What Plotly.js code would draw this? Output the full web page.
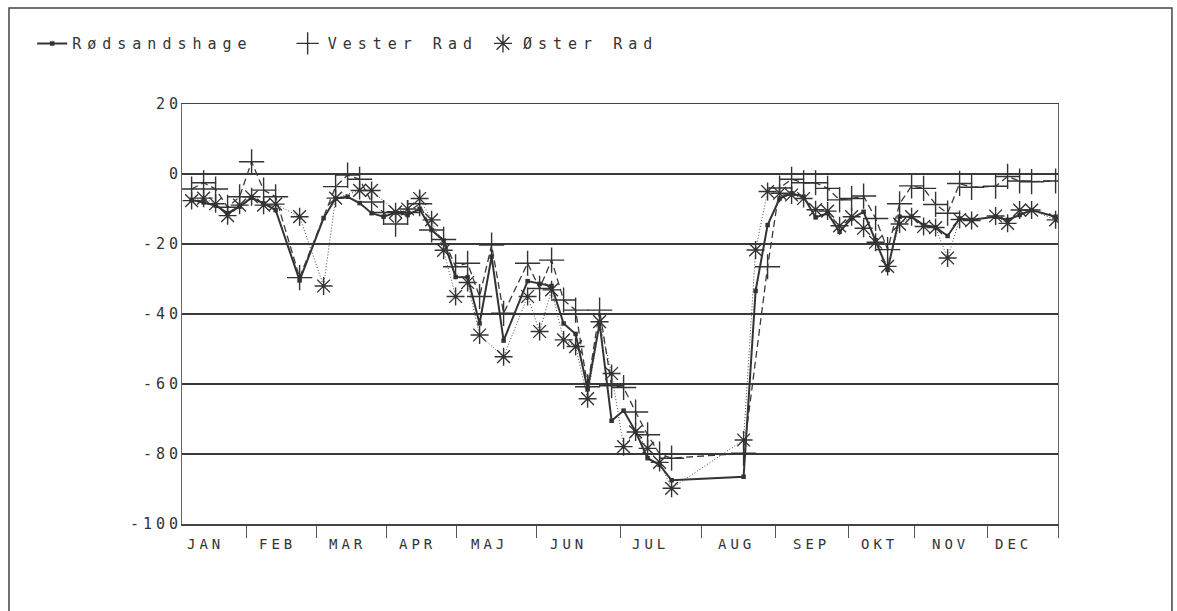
<!DOCTYPE html>
<html>
<head>
<meta charset="utf-8">
<script src="https://cdn.plot.ly/plotly-3.0.1.min.js"></script>
<style>
  html, body { margin: 0; padding: 0; background: #ffffff; }
  #chart { width: 1177px; height: 611px; }
  .legendtext { letter-spacing: 6px; }
  .annotation-text { letter-spacing: 4px; }
  .ytick text { letter-spacing: 4px; }
</style>
</head>
<body>
<div id="chart"></div>
<script>
// ---- data (day of year, value) ----
const rodDays = [4,9,14,19,24,29,34,39,49,59,64,69,74,79,84,89,94,99,104,109,114,119,124,129,134,144,149,154,159,164,169,174,179,184,189,194,199,204,234,239,244,249,254,259,264,269,274,279,284,289,294,299,304,309,314,319,324,329,339,344,349,354,364];
const rodValues = [-7.4,-8.1,-9,-11.2,-9.3,-6.8,-8.4,-10.3,-30.4,-12.6,-7,-6.5,-8.3,-11.2,-12.2,-11,-11.7,-10,-16,-19,-29.4,-29.5,-42.7,-23.6,-47.6,-30.6,-31.4,-32,-42.7,-45.7,-61.5,-42.7,-70.5,-67.6,-73.6,-81.2,-83.1,-87.5,-86.5,-33.4,-14.6,-7,-5.5,-6.5,-12.4,-11.2,-16.5,-12.7,-10.8,-18.9,-27.4,-12.2,-12.2,-14.6,-15.2,-17.7,-12.7,-13.1,-12.2,-13.1,-11.7,-10.3,-12.2];

const vesterDays = [4,9,14,19,24,29,34,39,49,64,69,74,79,84,89,94,99,104,109,114,119,124,129,134,144,149,154,159,164,169,174,179,184,189,194,199,204,234,244,249,254,259,264,269,274,279,284,289,294,299,304,309,314,319,324,329,339,344,349,354,364];
const vesterValues = [-4.3,-2.5,-4.3,-9.5,-6.5,3.5,-4.6,-6.5,-29.6,-3.6,-0.3,-1.5,-8,-11,-14.3,-11,-8.5,-16,-18.7,-26.5,-25.5,-35,-20.3,-39.8,-25.5,-32.7,-24.6,-36,-38.9,-60.8,-38.9,-60.5,-61,-68,-74.5,-80,-81.2,-79.8,-26.5,-4,-1.5,-2.5,-2.5,-4.1,-7.4,-7,-6.3,-12.7,-21.6,-8.5,-3.4,-4.1,-8.7,-11.2,-2.7,-3.8,-3.5,-0.7,-2,-2.2,-2];

const osterDays = [4,9,14,19,24,29,34,39,49,59,64,74,79,89,94,99,104,109,114,119,124,134,144,149,154,159,164,169,174,179,184,189,194,199,204,234,239,244,249,254,259,264,269,274,279,284,289,294,299,304,309,314,319,324,329,339,344,349,354,364];
const osterValues = [-7.6,-6.9,-8.5,-11.9,-8.9,-6.5,-8.9,-8.6,-12.2,-32,-6.9,-4.7,-4.7,-10.8,-10,-7,-13.1,-21.8,-35,-31,-46,-52.2,-35,-45,-33.1,-47.4,-49.3,-64.2,-42.2,-57,-77.9,-73.7,-78.4,-82.4,-89.8,-76,-21.7,-5,-5.5,-6,-7,-10.2,-10.6,-14.8,-12.2,-15.5,-19.5,-26.4,-14.3,-12.2,-15,-15.3,-24,-13,-13.3,-12,-14.1,-10.3,-10.3,-13.1];

const seriesNames = ['Rødsandshage', 'Vester Rad', 'Øster Rad'];
const monthLabels = ['JAN','FEB','MAR','APR','MAJ','JUN','JUL','AUG','SEP','OKT','NOV','DEC'];
const monthLabelDays = [9.6, 39.6, 69.1, 98.3, 128.3, 161.2, 195, 231.2, 262.1, 290.8, 320.4, 346.6];
const monthTickDays = [27, 56.1, 85.4, 114.2, 147.5, 182.5, 216.5, 247.4, 277.5, 305.4, 335.8, 365];
const yTickValues = [20, 0, -20, -40, -60, -80, -100];
const yTickLabels = ['20', '0', '-20', '-40', '-60', '-80', '-100'];

const ink = '#333333';
const NB = '\u00a0';
const plotFont = 'DejaVu Sans Mono';

const traces = [
  {
    x: rodDays, y: rodValues, name: seriesNames[0] + NB + NB,
    type: 'scatter', mode: 'lines+markers',
    line: { color: ink, width: 2 },
    marker: { symbol: 'square', size: 4.5, color: ink },
    showlegend: true
  },
  {
    x: vesterDays, y: vesterValues, name: seriesNames[1],
    type: 'scatter', mode: 'lines+markers',
    line: { color: '#3a3a3a', width: 1.3, dash: '7px,4px' },
    marker: { symbol: 'cross-thin-open', size: 18, color: ink, line: { color: ink, width: 1.4 } },
    showlegend: false
  },
  {
    x: osterDays, y: osterValues, name: seriesNames[2],
    type: 'scatter', mode: 'lines+markers',
    line: { color: '#444444', width: 1, dash: '1px,2px' },
    marker: { symbol: 'asterisk-open', size: 15, color: ink, line: { color: ink, width: 1.4 } },
    showlegend: false
  },
  {
    x: [null], y: [null], name: seriesNames[1], type: 'scatter', mode: 'markers',
    marker: { symbol: 'cross-thin-open', size: 18, color: ink, line: { color: ink, width: 1.4 } },
    showlegend: true
  },
  {
    x: [null], y: [null], name: seriesNames[2], type: 'scatter', mode: 'markers',
    marker: { symbol: 'asterisk-open', size: 15, color: ink, line: { color: ink, width: 1.4 } },
    showlegend: true
  }
];

const annotations = monthLabels.map((m, i) => ({
  x: monthLabelDays[i], y: 0, xref: 'x', yref: 'paper',
  text: m, showarrow: false, xanchor: 'center', yanchor: 'top', yshift: -10,
  font: { family: plotFont, size: 14, color: ink }
}));

const layout = {
  width: 1177, height: 611,
  margin: { l: 182, r: 119, t: 104, b: 87 },
  paper_bgcolor: '#ffffff', plot_bgcolor: '#ffffff',
  font: { family: plotFont, size: 15, color: ink },
  xaxis: {
    range: [0, 365], tickmode: 'array', tickvals: monthTickDays,
    ticks: 'outside', ticklen: 12, tickwidth: 1, tickcolor: '#555',
    showticklabels: false, showgrid: false, zeroline: false,
    showline: true, linecolor: '#444', linewidth: 1.5, mirror: true
  },
  yaxis: {
    range: [-100, 20], tickmode: 'array', tickvals: yTickValues, ticktext: yTickLabels,
    ticks: '', showgrid: true, gridcolor: '#3a3a3a', gridwidth: 1.8, zeroline: false,
    showline: true, linecolor: '#666', linewidth: 1, mirror: true,
    ticklabelstandoff: -4,
    tickfont: { family: plotFont, size: 15, color: ink }
  },
  legend: {
    orientation: 'h', x: -0.171, xanchor: 'left', y: 1.183, yanchor: 'top',
    font: { family: plotFont, size: 15, color: ink },
    bgcolor: 'rgba(0,0,0,0)', itemwidth: 30, traceorder: 'normal'
  },
  annotations: annotations,
  shapes: [{
    type: 'rect', xref: 'paper', yref: 'paper',
    x0: -0.1975, x1: 1.1301, y0: -0.25, y1: 1.2286,
    line: { color: '#444', width: 1.5 }, fillcolor: 'rgba(0,0,0,0)', layer: 'below'
  }],
  showlegend: true
};

Plotly.newPlot('chart', traces, layout, { staticPlot: true, displayModeBar: false });
</script>
</body>
</html>
